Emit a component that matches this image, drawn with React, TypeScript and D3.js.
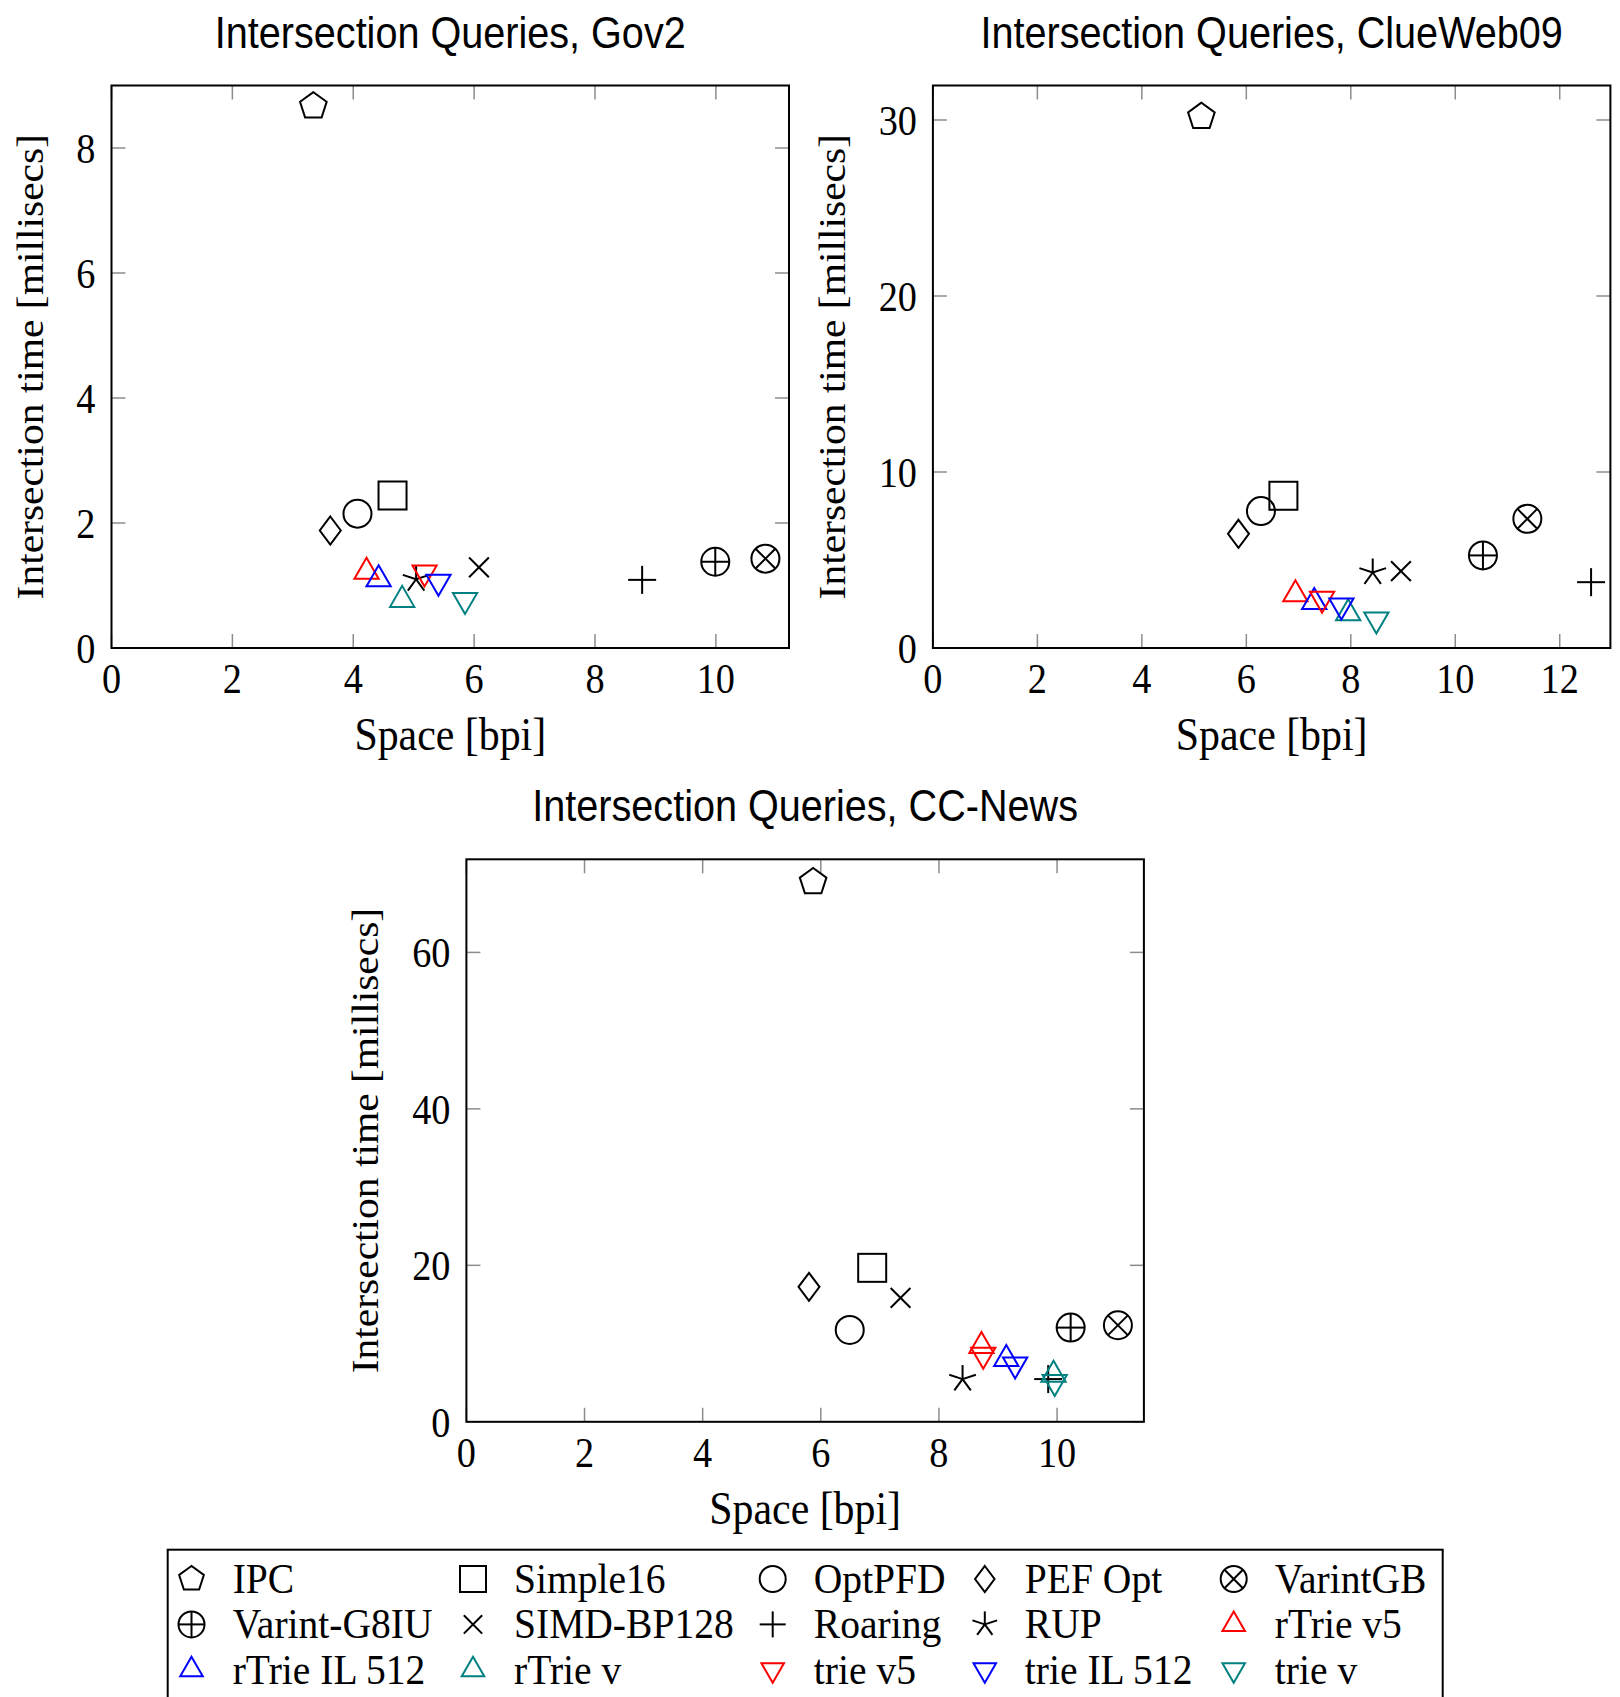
import * as d3 from "d3";
import React, { useRef, useEffect } from "react";

// legend / series order
const methods = ["IPC", "Simple16", "OptPFD", "PEF Opt", "VarintGB", "Varint-G8IU", "SIMD-BP128", "Roaring", "RUP", "rTrie v5", "rTrie IL 512", "rTrie v", "trie v5", "trie IL 512", "trie v"];
const marks = ["pentagon", "square", "circle", "diamond", "otimes", "oplus", "x", "plus", "star", "triUp", "triUp", "triUp", "triDown", "triDown", "triDown"];
const markColors = ["#000", "#000", "#000", "#000", "#000", "#000", "#000", "#000", "#000", "#ff0000", "#0000ff", "#008080", "#ff0000", "#0000ff", "#008080"];

// Gov2
const gov2Space = [3.34, 4.65, 4.07, 3.62, 10.82, 9.99, 6.08, 8.78, 5.04, 4.22, 4.42, 4.81, 5.18, 5.41, 5.85];
const gov2Time = [8.67, 2.44, 2.15, 1.88, 1.43, 1.38, 1.29, 1.09, 1.10, 1.22, 1.10, 0.77, 1.21, 1.06, 0.77];
const gov2XTicks = [0, 2, 4, 6, 8, 10];
const gov2YTicks = [0, 2, 4, 6, 8];

// ClueWeb09
const clueSpace = [5.14, 6.71, 6.28, 5.85, 11.38, 10.53, 8.96, 12.60, 8.42, 6.94, 7.30, 7.95, 7.45, 7.82, 8.49];
const clueTime = [30.19, 8.65, 7.78, 6.49, 7.34, 5.26, 4.37, 3.74, 4.29, 3.06, 2.62, 1.98, 2.80, 2.42, 1.62];
const clueXTicks = [0, 2, 4, 6, 8, 10, 12];
const clueYTicks = [0, 10, 20, 30];

// CC-News
const ccSpace = [5.87, 6.87, 6.49, 5.80, 11.03, 10.23, 7.35, 9.85, 8.40, 8.72, 9.14, 9.94, 8.75, 9.29, 9.96];
const ccTime = [69.0, 19.68, 11.74, 17.25, 12.34, 12.04, 15.84, 5.46, 5.46, 9.68, 8.03, 6.02, 8.58, 7.34, 5.08];
const ccXTicks = [0, 2, 4, 6, 8, 10];
const ccYTicks = [0, 20, 40, 60];

const SANS = "'Liberation Sans', Arial, Helvetica, sans-serif";
const SERIF = "'Liberation Serif', 'Times New Roman', serif";
const SQ = 0.89; // horizontal squeeze of the text

function drawMark(g, shape, r, color) {
  const pts = (arr) => arr.map((p) => p[0].toFixed(2) + "," + p[1].toFixed(2)).join(" ");
  const ang = (k) => ((90 + 72 * k) * Math.PI) / 180;
  const line = (x1, y1, x2, y2) => g.append("line").attr("x1", x1).attr("y1", y1).attr("x2", x2).attr("y2", y2);
  g.attr("stroke", color).attr("stroke-width", 2).attr("fill", "none").attr("stroke-linejoin", "miter");
  const d = r * Math.SQRT1_2;
  if (shape === "pentagon") {
    g.append("polygon").attr("points", pts(d3.range(5).map((k) => [r * Math.cos(ang(k)), -r * Math.sin(ang(k))])));
  } else if (shape === "square") {
    g.append("rect").attr("x", -r).attr("y", -r).attr("width", 2 * r).attr("height", 2 * r);
  } else if (shape === "circle") {
    g.append("circle").attr("r", r);
  } else if (shape === "diamond") {
    g.append("polygon").attr("points", pts([[0, -r], [0.75 * r, 0], [0, r], [-0.75 * r, 0]]));
  } else if (shape === "otimes") {
    g.append("circle").attr("r", r);
    line(-d, -d, d, d);
    line(-d, d, d, -d);
  } else if (shape === "oplus") {
    g.append("circle").attr("r", r);
    line(-r, 0, r, 0);
    line(0, -r, 0, r);
  } else if (shape === "x") {
    line(-d, -d, d, d);
    line(-d, d, d, -d);
  } else if (shape === "plus") {
    line(-r, 0, r, 0);
    line(0, -r, 0, r);
  } else if (shape === "star") {
    d3.range(5).forEach((k) => line(0, 0, r * Math.cos(ang(k)), -r * Math.sin(ang(k))));
  } else if (shape === "triUp") {
    g.append("polygon").attr("points", pts([[0, -r], [0.866 * r, 0.5 * r], [-0.866 * r, 0.5 * r]]));
  } else if (shape === "triDown") {
    g.append("polygon").attr("points", pts([[0, r], [0.866 * r, -0.5 * r], [-0.866 * r, -0.5 * r]]));
  }
}

const W = 677.5;
const H = 562.5;

const panels = [
  { title: "Intersection Queries, Gov2", space: gov2Space, time: gov2Time, xMax: 11.21, yMax: 9.0, xTicks: gov2XTicks, yTicks: gov2YTicks, left: 111.5, top: 85.5, ylab: 68.5 },
  { title: "Intersection Queries, ClueWeb09", space: clueSpace, time: clueTime, xMax: 12.97, yMax: 31.96, xTicks: clueXTicks, yTicks: clueYTicks, left: 932.9, top: 85.5, ylab: 88 },
  { title: "Intersection Queries, CC-News", space: ccSpace, time: ccTime, xMax: 11.47, yMax: 71.9, xTicks: ccXTicks, yTicks: ccYTicks, left: 466.4, top: 859.3, ylab: 88.8 },
];

const App = () => {
  const svgRef = useRef(null);

  useEffect(() => {
    const svg = d3.select(svgRef.current);
    svg.selectAll("*").remove();

    panels.forEach((p) => {
      const x = d3.scaleLinear().domain([0, p.xMax]).range([p.left, p.left + W]);
      const y = d3.scaleLinear().domain([0, p.yMax]).range([p.top + H, p.top]);
      const g = svg.append("g");
      const bottom = p.top + H;
      const right = p.left + W;

      // ticks, inside on all four sides
      const tl = 14;
      p.xTicks.forEach((t) => {
        g.append("line").attr("x1", x(t)).attr("x2", x(t)).attr("y1", bottom).attr("y2", bottom - tl).attr("stroke", "#8c8c8c").attr("stroke-width", 1.5);
        g.append("line").attr("x1", x(t)).attr("x2", x(t)).attr("y1", p.top).attr("y2", p.top + tl).attr("stroke", "#8c8c8c").attr("stroke-width", 1.5);
        g.append("text")
          .attr("transform", `translate(${x(t)},${bottom + 45}) scale(${SQ},1)`)
          .attr("text-anchor", "middle")
          .attr("font-family", SERIF)
          .attr("font-size", 43)
          .text(t);
      });
      p.yTicks.forEach((t) => {
        g.append("line").attr("x1", p.left).attr("x2", p.left + tl).attr("y1", y(t)).attr("y2", y(t)).attr("stroke", "#8c8c8c").attr("stroke-width", 1.5);
        g.append("line").attr("x1", right).attr("x2", right - tl).attr("y1", y(t)).attr("y2", y(t)).attr("stroke", "#8c8c8c").attr("stroke-width", 1.5);
        g.append("text")
          .attr("transform", `translate(${p.left - 16},${y(t) + 15}) scale(${SQ},1)`)
          .attr("text-anchor", "end")
          .attr("font-family", SERIF)
          .attr("font-size", 43)
          .text(t);
      });

      g.append("rect").attr("x", p.left).attr("y", p.top).attr("width", W).attr("height", H).attr("fill", "none").attr("stroke", "#000").attr("stroke-width", 2);

      // marks
      methods.forEach((m, i) => {
        const mg = g.append("g").attr("transform", `translate(${x(p.space[i])},${y(p.time[i])})`);
        drawMark(mg, marks[i], 14, markColors[i]);
      });

      // titles and labels
      g.append("text")
        .attr("transform", `translate(${p.left + W / 2},${p.top - 38}) scale(0.88,1)`)
        .attr("text-anchor", "middle")
        .attr("font-family", SANS)
        .attr("font-size", 45)
        .text(p.title);
      g.append("text")
        .attr("transform", `translate(${p.left + W / 2},${bottom + 102}) scale(0.91,1)`)
        .attr("text-anchor", "middle")
        .attr("font-family", SERIF)
        .attr("font-size", 46)
        .text("Space [bpi]");
      g.append("text")
        .attr("transform", `translate(${p.left - p.ylab},${p.top + H / 2}) rotate(-90) scale(1,${SQ})`)
        .attr("text-anchor", "middle")
        .attr("font-family", SERIF)
        .attr("font-size", 41.5)
        .text("Intersection time [millisecs]");
    });

    // legend
    const lg = svg.append("g");
    lg.append("rect").attr("x", 167.7).attr("y", 1549.7).attr("width", 1275).attr("height", 170).attr("fill", "none").attr("stroke", "#000").attr("stroke-width", 2);
    const colMark = [191.5, 473, 772.7, 984.8, 1233.7];
    const colText = [232.7, 514, 813.8, 1024.8, 1274.8];
    const rowY = [1579, 1624.4, 1669.8];
    methods.forEach((m, i) => {
      const c = i % 5;
      const r = Math.floor(i / 5);
      const mg = lg.append("g").attr("transform", `translate(${colMark[c]},${rowY[r]})`);
      drawMark(mg, marks[i], 13, markColors[i]);
      lg.append("text")
        .attr("transform", `translate(${colText[c]},${rowY[r] + 14}) scale(0.92,1)`)
        .attr("font-family", SERIF)
        .attr("font-size", 43)
        .text(m);
    });
  }, []);

  return (
    <div style={{ position: "absolute", left: 0, top: 0 }}>
      <svg ref={svgRef} width={1620} height={1697} style={{ display: "block", background: "#fff" }} />
    </div>
  );
};

export default App;
